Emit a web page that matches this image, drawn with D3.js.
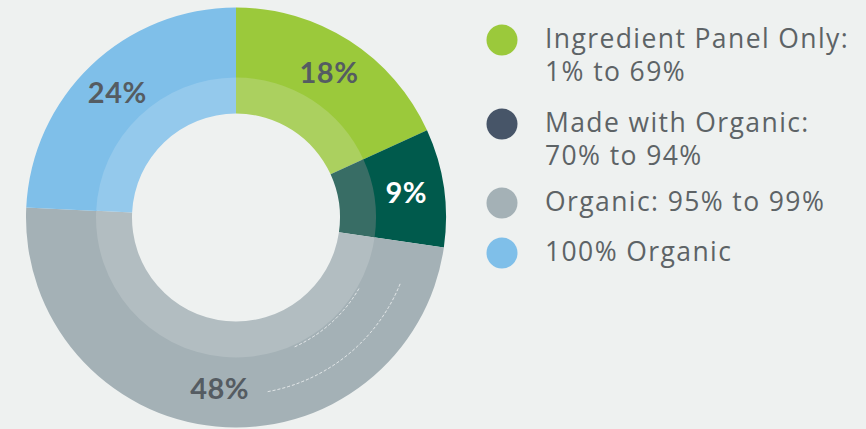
<!DOCTYPE html>
<html>
<head>
<meta charset="utf-8">
<script src="https://cdn.jsdelivr.net/npm/d3@7"></script>
<style>
  html, body { margin: 0; padding: 0; background: #eef1f0; }
  svg { display: block; }
</style>
</head>
<body>
<svg id="chart" width="866" height="429"></svg>
<script>
// ---- data ----
const categories = ["Ingredient Panel Only", "Made with Organic", "Organic", "100% Organic"];
const values = [18, 9, 48, 24];
const valueLabels = ["18%", "9%", "48%", "24%"];
const legendLine1 = ["Ingredient Panel Only:", "Made with Organic:", "Organic: 95% to 99%", "100% Organic"];
const legendLine2 = ["1% to 69%", "70% to 94%", "", ""];

// ---- styles ----
const outerColors = ["#9bc93b", "#005a4c", "#a4b1b6", "#7fbfe9"];
const innerColors = ["#abd05f", "#386d65", "#b2bdc1", "#94c9ec"];
const legendColors = ["#9bc93b", "#475568", "#a4b1b6", "#7fbfe9"];
const labelColors = ["#555c62", "#ffffff", "#555c62", "#555c62"];

const svg = d3.select("#chart");
const cx = 236, cy = 217.5;
const rOuter = 210, rMid = 140, rInner = 104;

const pie = d3.pie().sort(null).value(d => d);
const arcs = pie(values);

const g = svg.append("g").attr("transform", `translate(${cx},${cy})`);

const outerArc = d3.arc().innerRadius(rMid - 1).outerRadius(rOuter);
const innerArc = d3.arc().innerRadius(rInner).outerRadius(rMid);
const labelArc = d3.arc().innerRadius(172).outerRadius(172);

g.selectAll("path.outer").data(arcs).join("path")
  .attr("class", "outer")
  .attr("d", outerArc)
  .attr("fill", (d, i) => outerColors[i]);

g.selectAll("path.inner").data(arcs).join("path")
  .attr("class", "inner")
  .attr("d", innerArc)
  .attr("fill", (d, i) => innerColors[i]);

// faint dashed guide arcs inside the gray segment (as in reference)
[[177, 112, 170], [142, 120, 156]].forEach(([r, a0, a1]) => {
  g.append("path")
    .attr("d", d3.arc().innerRadius(r).outerRadius(r)({startAngle: a0 * Math.PI / 180, endAngle: a1 * Math.PI / 180}))
    .attr("fill", "none")
    .attr("stroke", "#ffffff")
    .attr("stroke-opacity", 0.5)
    .attr("stroke-width", 0.8)
    .attr("stroke-dasharray", "3 2");
});

g.selectAll("text.val").data(arcs).join("text")
  .attr("class", "val")
  .attr("transform", d => `translate(${labelArc.centroid(d)})`)
  .attr("text-anchor", "middle")
  .attr("dy", "0.36em")
  .attr("font-family", "Lato, 'Open Sans', sans-serif")
  .attr("font-weight", 700)
  .attr("font-size", 29)
  .attr("letter-spacing", 0.5)
  .attr("fill", (d, i) => labelColors[i])
  .text((d, i) => valueLabels[i]);

// ---- legend ----
const legendY = [40, 124, 203, 253];
const leg = svg.append("g");
const legText = (row, x, y, s) => row.append("text")
    .attr("x", x).attr("y", y)
    .attr("font-family", "'Open Sans', Lato, sans-serif")
    .attr("font-size", 26.5)
    .attr("letter-spacing", 1.4)
    .attr("fill", "#5d6366")
    .text(s);
categories.forEach((c, i) => {
  const row = leg.append("g");
  row.append("circle")
    .attr("cx", 502).attr("cy", legendY[i]).attr("r", 15.5)
    .attr("fill", legendColors[i]);
  legText(row, 545, legendY[i] + 7.5, legendLine1[i]);
  if (legendLine2[i]) legText(row, 545, legendY[i] + 40.5, legendLine2[i]);
});
</script>
</body>
</html>
